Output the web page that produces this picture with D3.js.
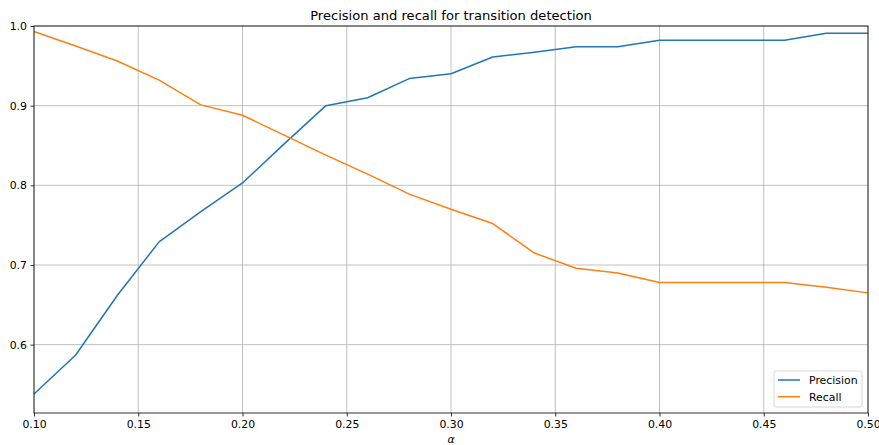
<!DOCTYPE html>
<html>
<head>
<meta charset="utf-8">
<script src="https://cdn.jsdelivr.net/npm/d3@7"></script>
<style>
  body { margin: 0; background: #fff; }
  svg { display: block; font-family: "DejaVu Sans", sans-serif; }
</style>
</head>
<body>
<svg id="chart" width="879" height="445"></svg>
<script>
const alphas = [0.10,0.12,0.14,0.16,0.18,0.20,0.22,0.24,0.26,0.28,0.30,0.32,0.34,0.36,0.38,0.40,0.42,0.44,0.46,0.48,0.50];
const precision = [0.538,0.587,0.662,0.729,0.767,0.803,0.852,0.900,0.910,0.934,0.940,0.961,0.967,0.974,0.974,0.982,0.982,0.982,0.982,0.991,0.991];
const recall = [0.993,0.975,0.956,0.932,0.901,0.888,0.863,0.838,0.814,0.789,0.770,0.752,0.715,0.696,0.690,0.678,0.678,0.678,0.678,0.672,0.665];
const xTicks = [0.10,0.15,0.20,0.25,0.30,0.35,0.40,0.45,0.50];
const yTicks = [0.6,0.7,0.8,0.9,1.0];
const seriesNames = ["Precision","Recall"];
const colors = ["#1f77b4","#ff7f0e"];

const W = 879, H = 445;
const m = {left: 34, right: 11, top: 26, bottom: 32};
const FS = 10.9;
const svg = d3.select("#chart");
const x = d3.scaleLinear().domain([0.10, 0.50]).range([m.left, W - m.right]);
const y = d3.scaleLinear().domain([0.5142, 1.0]).range([H - m.bottom, m.top]);

// grid
const g = svg.append("g");
g.selectAll(".gx").data(xTicks).join("line")
  .attr("x1", d => x(d)).attr("x2", d => x(d))
  .attr("y1", m.top).attr("y2", H - m.bottom)
  .attr("stroke", "#b0b0b0").attr("stroke-width", 0.8);
g.selectAll(".gy").data(yTicks).join("line")
  .attr("x1", m.left).attr("x2", W - m.right)
  .attr("y1", d => y(d)).attr("y2", d => y(d))
  .attr("stroke", "#b0b0b0").attr("stroke-width", 0.8);

// lines
const series = [precision, recall];
const line = d3.line().x((d, i) => x(alphas[i])).y(d => y(d));
series.forEach((s, k) => {
  svg.append("path").datum(s).attr("d", line)
    .attr("fill", "none").attr("stroke", colors[k]).attr("stroke-width", 1.5)
    .attr("stroke-linejoin", "round");
});

// axes
const xAxis = d3.axisBottom(x).tickValues(xTicks).tickFormat(d3.format(".2f")).tickSize(3.5).tickPadding(3.5);
const yAxis = d3.axisLeft(y).tickValues(yTicks).tickFormat(d3.format(".1f")).tickSize(3.5).tickPadding(3.5);
const gx = svg.append("g").attr("transform", `translate(0,${H - m.bottom})`).call(xAxis);
const gy = svg.append("g").attr("transform", `translate(${m.left},0)`).call(yAxis);
[gx, gy].forEach(a => {
  a.select(".domain").remove();
  a.selectAll("text").attr("font-size", FS).attr("fill", "#000").attr("font-family", "DejaVu Sans, sans-serif");
  a.selectAll("line").attr("stroke", "#000").attr("stroke-width", 0.8);
});

// frame
svg.append("rect").attr("x", m.left).attr("y", m.top)
  .attr("width", W - m.left - m.right).attr("height", H - m.top - m.bottom)
  .attr("fill", "none").attr("stroke", "#000").attr("stroke-width", 0.8);

// title & label
svg.append("text").attr("x", (m.left + W - m.right) / 2).attr("y", 20)
  .attr("text-anchor", "middle").attr("font-size", 13.1).text("Precision and recall for transition detection");
svg.append("text").attr("x", (m.left + W - m.right) / 2).attr("y", 443)
  .attr("text-anchor", "middle").attr("font-size", FS).attr("font-style", "italic").text("α");

// legend
const lg = svg.append("g").attr("transform", "translate(774,371)");
lg.append("rect").attr("width", 88).attr("height", 36).attr("rx", 2)
  .attr("fill", "#fff").attr("fill-opacity", 0.8).attr("stroke", "#cccccc").attr("stroke-width", 0.8);
seriesNames.forEach((n, i) => {
  const yy = 9 + i * 16.7;
  lg.append("line").attr("x1", 4).attr("x2", 26).attr("y1", yy).attr("y2", yy)
    .attr("stroke", colors[i]).attr("stroke-width", 1.5);
  lg.append("text").attr("x", 35).attr("y", yy + 4).attr("font-size", FS).text(n);
});
</script>
</body>
</html>
